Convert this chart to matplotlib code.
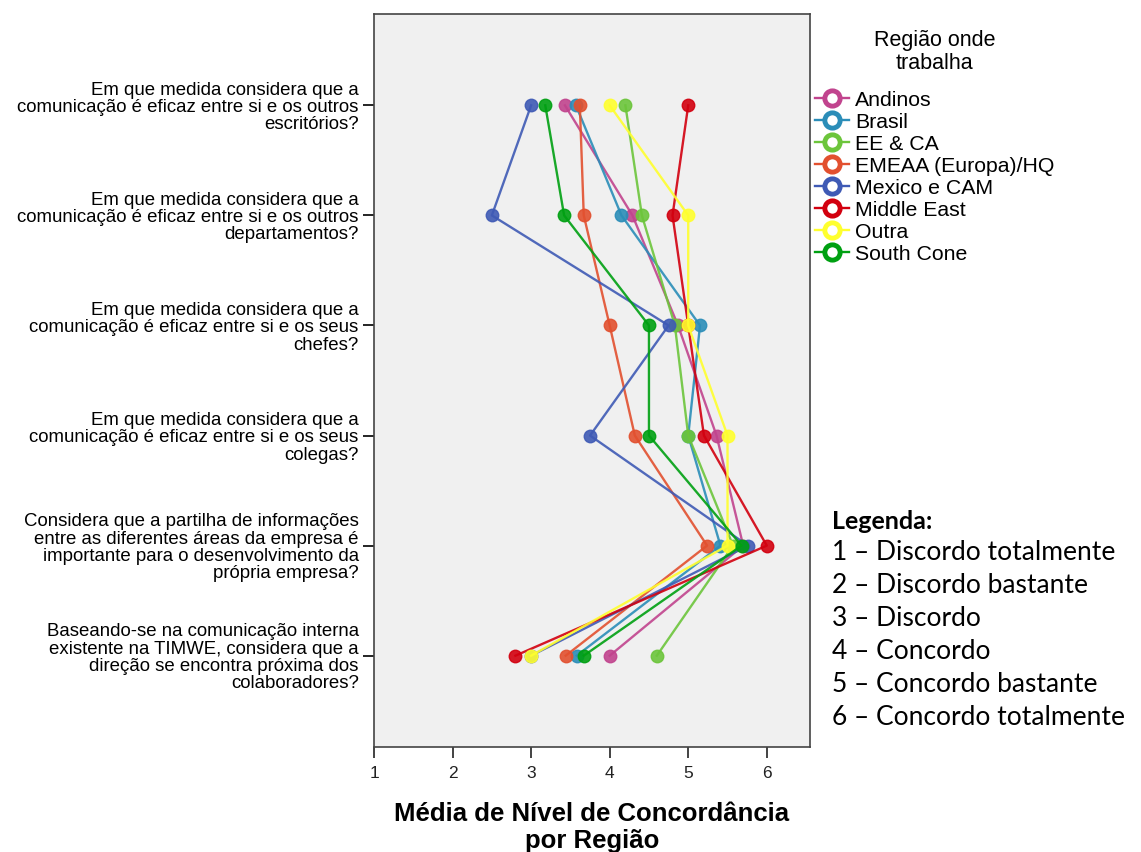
import matplotlib.pyplot as plt
from matplotlib.lines import Line2D

# questions, top to bottom
questions = [
    "Em que medida considera que a\ncomunicação é eficaz entre si e os outros\nescritórios?",
    "Em que medida considera que a\ncomunicação é eficaz entre si e os outros\ndepartamentos?",
    "Em que medida considera que a\ncomunicação é eficaz entre si e os seus\nchefes?",
    "Em que medida considera que a\ncomunicação é eficaz entre si e os seus\ncolegas?",
    "Considera que a partilha de informações\nentre as diferentes áreas da empresa é\nimportante para o desenvolvimento da\nprópria empresa?",
    "Baseando-se na comunicação interna\nexistente na TIMWE, considera que a\ndireção se encontra próxima dos\ncolaboradores?",
]

regions = ["Andinos", "Brasil", "EE & CA", "EMEAA (Europa)/HQ",
           "Mexico e CAM", "Middle East", "Outra", "South Cone"]
colors = ["#c1448e", "#2b8db8", "#6cc53b", "#e2502f",
          "#3f5ab5", "#d2000f", "#ffff2e", "#00a012"]

andinos = [3.43, 4.29, 4.87, 5.36, 5.70, 4.0]
brasil = [3.57, 4.15, 5.15, 5.0, 5.41, 3.58]
ee_ca = [4.20, 4.41, 4.83, 5.0, 5.57, 4.60]
emeaa = [3.62, 3.67, 4.0, 4.32, 5.24, 3.44]
mexico = [3.0, 2.5, 4.75, 3.75, 5.76, 3.0]
middle_east = [5.0, 4.8, 5.0, 5.2, 6.0, 2.8]
outra = [4.0, 5.0, 5.0, 5.5, 5.5, 3.0]
south_cone = [3.18, 3.42, 4.5, 4.5, 5.68, 3.67]

series = [andinos, brasil, ee_ca, emeaa, mexico, middle_east, outra, south_cone]

legend_scale = ["1 – Discordo totalmente", "2 – Discordo bastante", "3 – Discordo",
                "4 – Concordo", "5 – Concordo bastante", "6 – Concordo totalmente"]

plt.rcParams['font.family'] = ['Liberation Sans', 'DejaVu Sans']

fig = plt.figure(figsize=(11.41, 8.52), dpi=100)
ax = fig.add_axes([0.3278, 0.1232, 0.3821, 0.8604])
ax.set_facecolor("#f0f0f0")

ypos = list(range(len(questions)))
for vals, c in zip(series, colors):
    ax.plot(vals, ypos, color=c, lw=1.7, marker="o", ms=9,
            markerfacecolor=c, markeredgecolor=c, alpha=0.9)

ax.set_ylim(5.83, -0.83)
ax.set_xlim(1, 6.55)
ax.set_yticks(ypos)
ax.set_yticklabels(questions, fontsize=13.4, ha="right", linespacing=1.03)
ax.set_xticks([1, 2, 3, 4, 5, 6])
ax.tick_params(axis="x", length=8, width=1.2, labelsize=12.5, colors="#222222", pad=6)
ax.tick_params(axis="y", length=8, width=1.2, pad=3)
for s in ax.spines.values():
    s.set_color("#444444")
    s.set_linewidth(1.2)

ax.set_xlabel("Média de Nível de Concordância\npor Região", fontsize=18.5,
              fontweight="bold", labelpad=15, linespacing=1.12)

handles = [Line2D([0], [0], color=c, lw=1.7, marker="o", ms=11,
                  markerfacecolor="white", markeredgecolor=c, markeredgewidth=3.5)
           for c in colors]
leg = fig.legend(handles, regions, loc="upper left", bbox_to_anchor=(0.714, 0.965),
                 frameon=False, fontsize=15.3, title="Região onde\ntrabalha",
                 title_fontsize=15.5, handlelength=1.6, handletextpad=0.3,
                 labelspacing=0.14, borderaxespad=0, borderpad=0)
leg.get_title().set_linespacing(1.15)
leg.get_title().set_multialignment("center")
leg._legend_box.sep = 12

fig.text(0.729, 0.388, "Legenda:", fontsize=18, fontweight="bold",
         family="Lato", va="center")
for i, t in enumerate(legend_scale):
    fig.text(0.729, 0.351 - i * 0.0387, t, fontsize=19, family="Lato", va="center")

fig.savefig("out.png", dpi=100)
